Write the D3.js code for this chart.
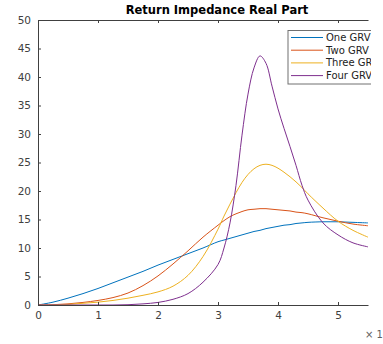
<!DOCTYPE html>
<html>
<head>
<meta charset="utf-8">
<script src="https://cdn.jsdelivr.net/npm/d3@7"></script>
<style>
  html, body { margin: 0; padding: 0; background: #fff; }
  svg { display: block; }
  text { font-family: "DejaVu Sans", sans-serif; }
</style>
</head>
<body>
<svg id="chart" width="383" height="344"></svg>
<script>
// Frequency samples (×10^n) shared by all four curves
const xs = [0, 0.25, 0.5, 0.75, 1, 1.25, 1.5, 1.75, 2, 2.25, 2.5, 2.75, 3, 3.1, 3.2, 3.3, 3.4, 3.5, 3.6, 3.7, 3.8, 3.9, 4, 4.1, 4.2, 4.3, 4.4, 4.5, 4.75, 5, 5.25, 5.5];

// Real part of the return impedance for each configuration
const oneGRV   = [0, 0.5, 1.2, 2.0, 2.9, 3.9, 4.9, 5.9, 7.0, 8.0, 9.0, 10.0, 11.1, 11.4, 11.7, 12.0, 12.3, 12.6, 12.9, 13.1, 13.4, 13.6, 13.8, 14.0, 14.1, 14.3, 14.4, 14.5, 14.6, 14.6, 14.5, 14.4];
const twoGRV   = [0, 0.05, 0.2, 0.45, 0.8, 1.3, 2.1, 3.4, 5.1, 7.2, 9.5, 11.9, 14.0, 14.8, 15.5, 16.0, 16.4, 16.7, 16.8, 16.9, 16.9, 16.8, 16.7, 16.6, 16.5, 16.3, 16.2, 16.0, 15.3, 14.7, 14.2, 13.9];
const threeGRV = [0, 0.02, 0.1, 0.3, 0.5, 0.8, 1.2, 1.7, 2.3, 3.3, 5.2, 8.5, 13.3, 15.6, 17.7, 19.7, 21.5, 22.9, 23.9, 24.5, 24.7, 24.5, 24.0, 23.3, 22.5, 21.6, 20.6, 19.5, 17.0, 14.7, 13.1, 11.9];
const fourGRV  = [0, 0, 0, 0, 0, 0, 0.05, 0.2, 0.45, 1.0, 2.0, 4.0, 7.1, 10.0, 14.4, 21.0, 29.8, 37.0, 41.6, 43.7, 42.4, 38.4, 34.4, 31.0, 27.8, 24.5, 21.0, 18.4, 14.4, 12.3, 10.9, 10.2];

const seriesNames  = ["One GRV", "Two GRV", "Three GRV", "Four GRV"];
const seriesValues = [oneGRV, twoGRV, threeGRV, fourGRV];
const seriesColors = ["#0072BD", "#D95319", "#EDB120", "#7E2F8E"];

const xTicks = [0, 1, 2, 3, 4, 5];
const yTicks = [0, 5, 10, 15, 20, 25, 30, 35, 40, 45, 50];
const titleText = "Return Impedance Real Part";
const exponentText = "× 10";

const svg = d3.select("#chart");
const axisColor = "#404040";

const x = d3.scaleLinear().domain([0, 5.5]).range([38, 368]);
const y = d3.scaleLinear().domain([0, 50]).range([305, 20]);

// Plot area clip
svg.append("clipPath").attr("id", "plotClip")
  .append("rect").attr("x", x(0)).attr("y", y(50)).attr("width", x(5.5) - x(0)).attr("height", y(0) - y(50));

// Curves
const line = d3.line()
  .x((d, i) => x(xs[i]))
  .y(d => y(Math.max(0, d)))
  .curve(d3.curveCatmullRom.alpha(0.5));

const curves = svg.append("g").attr("clip-path", "url(#plotClip)");
seriesValues.forEach((vals, k) => {
  curves.append("path")
    .attr("d", line(vals))
    .attr("fill", "none")
    .attr("stroke", seriesColors[k])
    .attr("stroke-width", 1);
});

// Axes (ticks point inward)
const xAxis = d3.axisBottom(x).tickValues(xTicks).tickFormat(d3.format("d")).tickSizeInner(-3).tickSizeOuter(0).tickPadding(7);
const yAxis = d3.axisLeft(y).tickValues(yTicks).tickFormat(d3.format("d")).tickSizeInner(-3).tickSizeOuter(0).tickPadding(7);
const xTop = d3.axisTop(x).tickValues(xTicks).tickFormat("").tickSizeInner(-3).tickSizeOuter(0);

function styleAxis(g) {
  g.select(".domain").attr("stroke", axisColor).attr("stroke-width", 1);
  g.selectAll(".tick line").attr("stroke", axisColor);
  g.selectAll(".tick text").attr("fill", axisColor).style("font-size", "10.5px").style("font-family", "DejaVu Sans, sans-serif");
}

svg.append("g").attr("transform", `translate(0,${y(0)})`).call(xAxis).call(styleAxis);
svg.append("g").attr("transform", `translate(${x(0)},0)`).call(yAxis).call(styleAxis);
svg.append("g").attr("transform", `translate(0,${y(50)})`).call(xTop).call(styleAxis);

// Exponent label for the x axis
svg.append("text")
  .attr("x", 365).attr("y", 338)
  .attr("fill", "#606060")
  .style("font-size", "10px")
  .text(exponentText);

// Title
svg.append("text")
  .attr("x", 217).attr("y", 14)
  .attr("text-anchor", "middle")
  .attr("fill", "#000")
  .style("font-size", "11.5px")
  .style("font-weight", "bold")
  .text(titleText);

// Legend (cut off at the figure's right edge)
svg.append("clipPath").attr("id", "legendClip")
  .append("rect").attr("x", 0).attr("y", 0).attr("width", 371).attr("height", 344);

const legend = svg.append("g").attr("clip-path", "url(#legendClip)");
legend.append("rect")
  .attr("x", 288).attr("y", 30.5).attr("width", 120).attr("height", 53.5)
  .attr("fill", "#fff").attr("stroke", "#707070").attr("stroke-width", 1);

seriesNames.forEach((name, k) => {
  const ly = 37.5 + k * 12.7;
  legend.append("line")
    .attr("x1", 291).attr("x2", 323).attr("y1", ly).attr("y2", ly)
    .attr("stroke", seriesColors[k]).attr("stroke-width", 1);
  legend.append("text")
    .attr("x", 326).attr("y", ly + 3.5)
    .attr("fill", "#222")
    .style("font-size", "10px")
    .text(name);
});
</script>
</body>
</html>
